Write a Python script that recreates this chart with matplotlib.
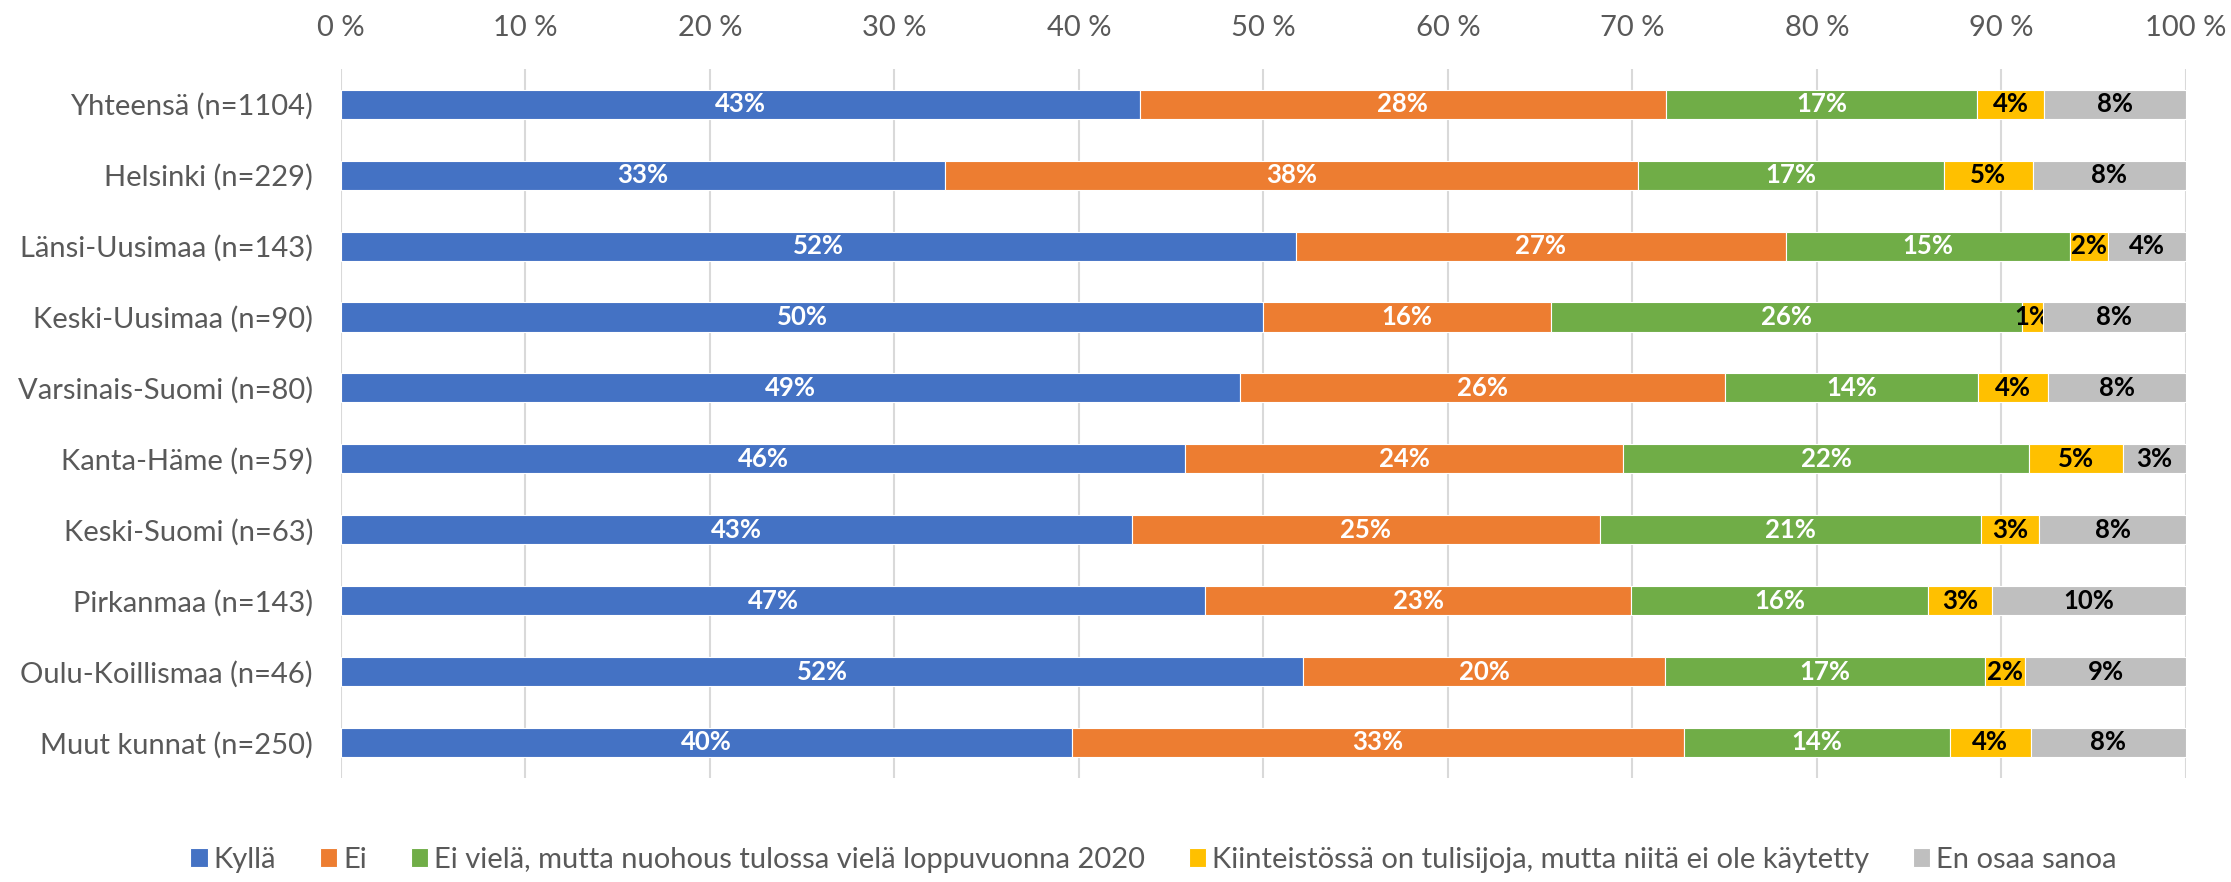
import matplotlib
matplotlib.use("Agg")
import matplotlib.pyplot as plt
import numpy as np
from matplotlib.ticker import FixedLocator

plt.rcParams["font.family"] = ["Lato", "DejaVu Sans"]

regions = [
    "Yhteensä (n=1104)",
    "Helsinki (n=229)",
    "Länsi-Uusimaa (n=143)",
    "Keski-Uusimaa (n=90)",
    "Varsinais-Suomi (n=80)",
    "Kanta-Häme (n=59)",
    "Keski-Suomi (n=63)",
    "Pirkanmaa (n=143)",
    "Oulu-Koillismaa (n=46)",
    "Muut kunnat (n=250)",
]
series_names = [
    "Kyllä",
    "Ei",
    "Ei vielä, mutta nuohous tulossa vielä loppuvuonna 2020",
    "Kiinteistössä on tulisijoja, mutta niitä ei ole käytetty",
    "En osaa sanoa",
]
kylla = [43.3, 32.75, 51.75, 50.0, 48.75, 45.76, 42.86, 46.85, 52.17, 39.6]
ei = [28.5, 37.55, 26.57, 15.56, 26.25, 23.73, 25.4, 23.08, 19.57, 33.2]
ei_viela = [16.9, 16.59, 15.38, 25.56, 13.75, 22.03, 20.63, 16.08, 17.39, 14.4]
tulisijoja = [3.6, 4.8, 2.1, 1.11, 3.75, 5.08, 3.17, 3.49, 2.17, 4.4]
en_osaa = [7.7, 8.3, 4.2, 7.78, 7.5, 3.39, 7.94, 10.49, 8.7, 8.4]

colors = ["#4472C4", "#ED7D31", "#70AD47", "#FFC000", "#BFBFBF"]
label_colors = ["white", "white", "white", "black", "black"]
xticks = [0, 10, 20, 30, 40, 50, 60, 70, 80, 90, 100]

fig = plt.figure(figsize=(22.31, 8.82), dpi=100)
ax = fig.add_axes([0.1528, 0.118, 0.8270, 0.804])

y = np.arange(len(regions))
left = np.zeros(len(regions))
for name, vals, col, tcol in zip(series_names, [kylla, ei, ei_viela, tulisijoja, en_osaa],
                                 colors, label_colors):
    vals = np.array(vals)
    bars = ax.barh(y, vals, left=left, height=0.41, color=col, edgecolor="white",
                   linewidth=0.8, label=name, zorder=3)
    ax.bar_label(bars, labels=[f"{v:.0f}%" for v in vals], label_type="center",
                 color=tcol, fontsize=18.5, fontweight="bold")
    left += vals

ax.set_xlim(0, 100)
ax.set_ylim(len(regions) - 0.5, -0.5)
ax.set_yticks(y)
ax.set_yticklabels(regions)
ax.xaxis.set_major_locator(FixedLocator(xticks))
ax.set_xticklabels([f"{t} %" for t in xticks])
ax.xaxis.tick_top()
ax.tick_params(axis="x", length=0, pad=20, labelsize=21, labelcolor="#595959")
ax.tick_params(axis="y", length=0, pad=20, labelsize=21, labelcolor="#595959")
ax.grid(axis="x", color="#D9D9D9", linewidth=1.5, zorder=0)
for s in ax.spines.values():
    s.set_visible(False)

fig.legend(loc="center", bbox_to_anchor=(0.517, 0.025), ncol=5, frameon=False,
           fontsize=21, labelcolor="#595959", handlelength=0.6, handleheight=0.6,
           handletextpad=0.2, columnspacing=1.5, borderaxespad=0)

fig.savefig("out.png", dpi=100)
